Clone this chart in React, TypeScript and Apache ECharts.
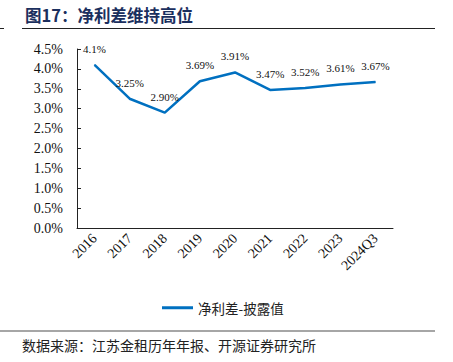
import React, { useEffect, useRef } from "react";
import * as echarts from "echarts";

const categories = ["2016", "2017", "2018", "2019", "2020", "2021", "2022", "2023", "2024Q3"];
const values = [4.1, 3.25, 2.9, 3.69, 3.91, 3.47, 3.52, 3.61, 3.67];
const valueLabels = ["4.1%", "3.25%", "2.90%", "3.69%", "3.91%", "3.47%", "3.52%", "3.61%", "3.67%"];
const seriesName = "净利差-披露值";
const titleText = "图17：净利差维持高位";
const sourceText = "数据来源：江苏金租历年年报、开源证券研究所";

const SERIF = "'Times New Roman', 'Liberation Serif', serif";
const CJK = "'Noto Sans CJK SC', sans-serif";

export default function App() {
  const ref = useRef<HTMLDivElement>(null);
  useEffect(() => {
    if (!ref.current) return;
    const chart = echarts.init(ref.current, undefined, { renderer: "svg" });
    chart.setOption({
      animation: false,
      backgroundColor: "#ffffff",
      grid: { left: 77, right: 60, top: 49, bottom: 134, containLabel: false },
      legend: {
        data: [{ name: seriesName, icon: "rect" }],
        left: 157,
        top: 296,
        itemWidth: 31,
        itemHeight: 3,
        itemGap: 4,
        textStyle: { fontFamily: CJK, fontSize: 13.5, color: "#222" },
      },
      xAxis: {
        type: "category",
        data: categories,
        boundaryGap: true,
        axisLine: { lineStyle: { color: "#222", width: 1 } },
        axisTick: { inside: true, length: 4, lineStyle: { color: "#222" } },
        axisLabel: { rotate: 45, fontFamily: SERIF, fontSize: 14, color: "#111", margin: 8, interval: 0 },
      },
      yAxis: {
        type: "value",
        min: 0,
        max: 4.5,
        interval: 0.5,
        splitLine: { show: false },
        axisLine: { show: true, lineStyle: { color: "#222", width: 1 } },
        axisTick: { show: true, inside: true, length: 4, lineStyle: { color: "#222" } },
        axisLabel: {
          fontFamily: SERIF,
          fontSize: 14,
          color: "#111",
          margin: 14,
          formatter: (v: number) => v.toFixed(1) + "%",
        },
      },
      series: [
        {
          name: seriesName,
          type: "line",
          data: values,
          symbol: "circle",
          symbolSize: 1,
          showSymbol: true,
          lineStyle: { color: "#0070C0", width: 2.5 },
          itemStyle: { color: "#0070C0" },
          label: {
            show: true,
            position: "top",
            distance: 10,
            fontFamily: SERIF,
            fontSize: 11,
            color: "#111",
            formatter: (p: any) => valueLabels[p.dataIndex],
          },
        },
      ],
      graphic: [
        {
          type: "text",
          left: 25,
          top: 7,
          style: { text: titleText, font: `bold 16.5px ${CJK}`, fill: "#1b2f5e" },
        },
        { type: "line", shape: { x1: 22, y1: 28.5, x2: 435, y2: 28.5 }, style: { stroke: "#222", lineWidth: 1 } },
        { type: "line", shape: { x1: 0, y1: 28.5, x2: 4, y2: 28.5 }, style: { stroke: "#222", lineWidth: 1 } },
        { type: "line", shape: { x1: 0, y1: 331, x2: 435, y2: 331 }, style: { stroke: "#888", lineWidth: 1.5 } },
        {
          type: "text",
          left: 22,
          top: 338,
          style: { text: sourceText, font: `14px ${CJK}`, fill: "#222" },
        },
      ],
    });
    return () => chart.dispose();
  }, []);
  return <div ref={ref} style={{ width: 453, height: 362, position: "absolute", left: 0, top: 0 }} />;
}
